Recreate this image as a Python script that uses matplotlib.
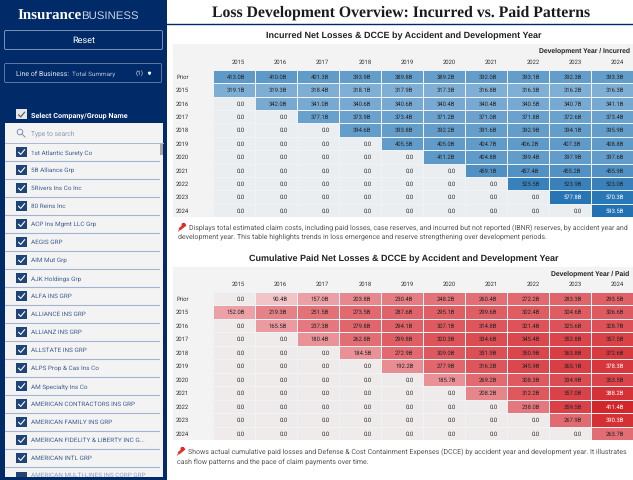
import numpy as np
import matplotlib
matplotlib.use("Agg")
import matplotlib.pyplot as plt
from matplotlib.colors import LinearSegmentedColormap
from matplotlib.patches import Rectangle, Circle, FancyBboxPatch

# ----------------------------
# Data
# ----------------------------

dev_years = ["2015", "2016", "2017", "2018", "2019", "2020", "2021", "2022", "2023", "2024"]
accident_years = ["Prior", "2015", "2016", "2017", "2018", "2019", "2020", "2021", "2022", "2023", "2024"]

incurred = [
    [413.0, 410.0, 401.3, 393.9, 389.8, 389.2, 392.0, 393.1, 392.3, 393.3],
    [319.1, 319.3, 318.4, 318.1, 317.9, 317.3, 316.8, 316.3, 316.2, 316.3],
    [0, 342.0, 341.0, 340.6, 340.6, 340.4, 340.4, 340.5, 340.7, 341.1],
    [0, 0, 377.1, 373.9, 373.4, 371.2, 371.0, 371.8, 372.6, 373.4],
    [0, 0, 0, 394.6, 393.8, 392.2, 391.6, 392.9, 394.1, 395.9],
    [0, 0, 0, 0, 405.5, 405.0, 404.7, 406.2, 407.3, 408.8],
    [0, 0, 0, 0, 0, 411.2, 404.8, 399.4, 397.9, 397.6],
    [0, 0, 0, 0, 0, 0, 459.1, 457.4, 455.2, 455.9],
    [0, 0, 0, 0, 0, 0, 0, 525.5, 523.9, 523.0],
    [0, 0, 0, 0, 0, 0, 0, 0, 577.8, 570.3],
    [0, 0, 0, 0, 0, 0, 0, 0, 0, 593.5],
]

paid = [
    [0, 90.4, 157.0, 203.8, 230.4, 248.2, 260.4, 272.2, 283.3, 293.5],
    [152.0, 219.3, 251.5, 273.5, 287.6, 295.1, 299.6, 302.4, 304.6, 306.6],
    [0, 165.5, 237.3, 279.8, 294.1, 307.1, 314.8, 321.4, 325.6, 328.7],
    [0, 0, 180.4, 262.8, 299.8, 320.3, 334.6, 345.4, 352.8, 357.5],
    [0, 0, 0, 184.5, 272.9, 309.0, 331.9, 350.9, 363.8, 372.6],
    [0, 0, 0, 0, 192.2, 277.9, 316.2, 345.9, 365.1, 378.3],
    [0, 0, 0, 0, 0, 185.7, 269.2, 308.3, 334.9, 353.5],
    [0, 0, 0, 0, 0, 0, 208.2, 312.2, 357.0, 388.2],
    [0, 0, 0, 0, 0, 0, 0, 238.0, 359.5, 411.4],
    [0, 0, 0, 0, 0, 0, 0, 0, 267.9, 390.3],
    [0, 0, 0, 0, 0, 0, 0, 0, 0, 263.7],
]

companies = [
    "1st Atlantic Surety Co", "5B Alliance Grp", "5Rivers Ins Co Inc", "80 Reins Inc",
    "ACP Ins Mgmt LLC Grp", "AEGIS GRP", "AIM Mut Grp", "AJK Holdings Grp",
    "ALFA INS GRP", "ALLIANCE INS GRP", "ALLIANZ INS GRP", "ALLSTATE INS GRP",
    "ALPS Prop & Cas Ins Co", "AM Specialty Ins Co", "AMERICAN CONTRACTORS INS GRP",
    "AMERICAN FAMILY INS GRP", "AMERICAN FIDELITY & LIBERTY INC G...", "AMERICAN INTL GRP",
]

note_incurred = [
    "Displays total estimated claim costs, including paid losses, case reserves, and incurred but not reported (IBNR) reserves, by accident year and",
    "development year. This table highlights trends in loss emergence and reserve strengthening over development periods.",
]
note_paid = [
    "Shows actual cumulative paid losses and Defense & Cost Containment Expenses (DCCE) by accident year and development year. It illustrates",
    "cash flow patterns and the pace of claim payments over time.",
]

# ----------------------------
# Figure, pixel coordinates for the page
# ----------------------------

W, H = 633, 480
NAVY = "#012a68"
MID = "center_baseline"
plt.rcParams["font.family"] = ["Roboto", "DejaVu Sans"]
plt.rcParams["text.hinting"] = "no_hinting"

fig = plt.figure(figsize=(W / 100, H / 100), dpi=100, facecolor="white")
page = fig.add_axes([0, 0, 1, 1])
page.set_xlim(0, W)
page.set_ylim(H, 0)
page.axis("off")


def box(x0, y0, x1, y1, **kw):
    page.add_patch(Rectangle((x0, y0), x1 - x0, y1 - y0, **kw))


def round_box(x0, y0, x1, y1, **kw):
    page.add_patch(FancyBboxPatch((x0 + 1, y0 + 1), x1 - x0 - 2, y1 - y0 - 2,
                                  boxstyle="round,pad=1,rounding_size=1.5", **kw))


def check(x, y, color):
    page.plot([x - 3, x - 0.8, x + 3.2], [y + 0.2, y + 2.4, y - 2.4], color=color, lw=0.8,
              solid_capstyle="round", zorder=5)


def pin(x, y):
    page.plot([x - 3.5, x], [y + 4, y], color="#c9302c", lw=0.6, zorder=5)
    page.plot([x - 1.5, x + 2.5], [y + 1.5, y - 1.8], color="#e0332e", lw=2.0, zorder=5)
    page.add_patch(Circle((x + 1.5, y - 2.2), 1.3, color="#d92c2c", zorder=5))


# ----------------------------
# Sidebar
# ----------------------------

box(0, 0, 167, H, fc=NAVY, ec="none")
page.text(17, 14.5, "Insurance", family="Liberation Serif", weight="bold", fontsize=10.8,
          color="white", va=MID)
page.text(81, 15, "BUSINESS", family="Liberation Sans", fontsize=8.2,
          color="#c8d2e4", va=MID)

round_box(4.5, 30.5, 162.5, 49.5, fc="none", ec="#8fa3c4", lw=0.6)
page.text(83.5, 40, "Reset", color="white", fontsize=6.6, ha="center", va=MID)

round_box(4.5, 63.5, 161.5, 82.5, fc="none", ec="#6f86ad", lw=0.6)
page.text(16, 73, "Line of Business:", color="#dfe5f0", fontsize=5.0, va=MID)
page.text(72, 73, "Total Summary", color="#b5c2d9", fontsize=4.6, va=MID)
page.text(136, 73, "(1)", color="#dfe5f0", fontsize=4.6, va=MID)
page.plot([148.5], [73], marker="v", ms=1.6, color="white")

box(16, 109, 26.5, 119, fc="#e6e6e6", ec="none")
check(21.5, 114.5, "#555555")
page.text(31, 114.5, "Select Company/Group Name", color="white", fontsize=5.2, weight="bold", va=MID)

box(4.5, 123, 162.5, 477, fc="#f3f3f3", ec="none")
page.text(31, 132.5, "Type to search", color="#8e9cb8", fontsize=4.8, va=MID)
page.add_patch(Circle((20, 132), 2.8, fc="none", ec="#7f8fae", lw=0.7))
page.plot([22, 25], [134, 137], color="#7f8fae", lw=0.7)
page.plot([4.5, 162.5], [142.5, 142.5], color="#a9b8d4", lw=0.7)
box(160, 143, 162.5, 155, fc="#a8a8a8", ec="none")

for i, name in enumerate(companies):
    yc = 152 + i * 18
    box(16, yc - 5, 26.5, yc + 5, fc="#1f4478", ec="none")
    check(21.5, yc, "white")
    page.text(31, yc, name, color="#3f5f94", fontsize=4.6, va=MID)
    page.plot([5, 159], [yc + 9.2, yc + 9.2], color="#a3b4d2", lw=0.8)
box(16, 472, 26.5, 477, fc="#1f4478", ec="none")
page.text(31, 475, "AMERICAN MULTI-LINES INS CORP GRP", color="#8d9fbf", fontsize=4.6, va=MID)
box(0, 477, 167, 480, fc=NAVY, ec="none", zorder=6)

# ----------------------------
# Header and titles
# ----------------------------

page.text(401, 11.5, "Loss Development Overview: Incurred vs. Paid Patterns", family="Liberation Serif",
          weight="bold", fontsize=11.3, color="#1b1b1b", ha="center", va=MID)
page.plot([167, W], [23.5, 23.5], color=NAVY, lw=1)

page.text(403.5, 35, "Incurred Net Losses & DCCE by Accident and Development Year", family="Liberation Sans",
          weight="bold", fontsize=6.5, color="#222222", ha="center", va=MID)
page.text(403.5, 258, "Cumulative Paid Net Losses & DCCE by Accident and Development Year", family="Liberation Sans",
          weight="bold", fontsize=6.5, color="#222222", ha="center", va=MID)

for y, line, x in [(227.5, note_incurred[0], 189), (236, note_incurred[1], 178),
                   (451.5, note_paid[0], 188), (460.5, note_paid[1], 177)]:
    page.text(x, y, line, color="#555555", fontsize=5.0, va=MID)
pin(182, 227)
pin(181, 451)

# ----------------------------
# Heat tables
# ----------------------------

blues = LinearSegmentedColormap.from_list("inc", [
    (0.0, "#80afd5"), (0.28, "#639dca"), (0.52, "#5090c3"), (0.75, "#3a81bb"), (1.0, "#2272b3")])
reds = LinearSegmentedColormap.from_list("paid", [
    (0.0, "#f3c4c7"), (0.2, "#eca0a5"), (0.41, "#e57f85"), (0.65, "#df5e64"), (0.81, "#da464c"), (1.0, "#d2262a")])


def heat_table(values, top, bottom, panel_top, cmap, zero_color, corner, vmin, vmax, white_over):
    values = np.array(values, dtype=float)
    box(172.5, panel_top, W, bottom, fc="#f3f3f3", ec="none")
    px0, px1 = 212.5, 633
    ax = fig.add_axes([px0 / W, 1 - bottom / H, (px1 - px0) / W, (bottom - top) / H])
    ax.set_facecolor("none")
    masked = np.ma.masked_equal(values, 0)
    ax.pcolormesh(np.zeros_like(values), cmap=LinearSegmentedColormap.from_list("z", [zero_color, zero_color]),
                  edgecolors="#f6f6f6", linewidth=0.45)
    ax.pcolormesh(masked, cmap=cmap, vmin=vmin, vmax=vmax, edgecolors="#eef3f8", linewidth=0.45)
    ax.invert_yaxis()
    for r, row in enumerate(values):
        for c, v in enumerate(row):
            label = "0.0" if v == 0 else f"{v:.1f}B"
            col = "white" if v >= white_over else "#262626"
            ax.text(c + 0.78, r + 0.5, label, ha="right", va=MID, fontsize=4.2, color=col)
    ax.set_xticks(np.arange(len(dev_years)) + 0.78, dev_years, ha="right", fontsize=4.2, color="#333333")
    ax.set_yticks(np.arange(len(accident_years)) + 0.5, accident_years, ha="left", fontsize=4.2, color="#333333")
    ax.tick_params(axis="x", length=0, top=True, bottom=False, labeltop=True, labelbottom=False, pad=3.2)
    ax.tick_params(axis="y", length=0, pad=26.2)
    ax.set_xlim(0, len(dev_years))
    for s in ax.spines.values():
        s.set_visible(False)
    fig.text(0.9995 - 3 / W, 1 - (panel_top + 6) / H, corner, ha="right", va=MID, fontsize=4.9,
             weight="bold", color="#222222", family="Liberation Sans")


heat_table(incurred, 70, 217, 44, blues, "#ebeef0", "Development Year / Incurred", 316, 593.5, 570)
heat_table(paid, 292, 440, 267, reds, "#f0ebeb", "Development Year / Paid", 90, 411.4, 375)

fig.savefig("out.png", dpi=100)
